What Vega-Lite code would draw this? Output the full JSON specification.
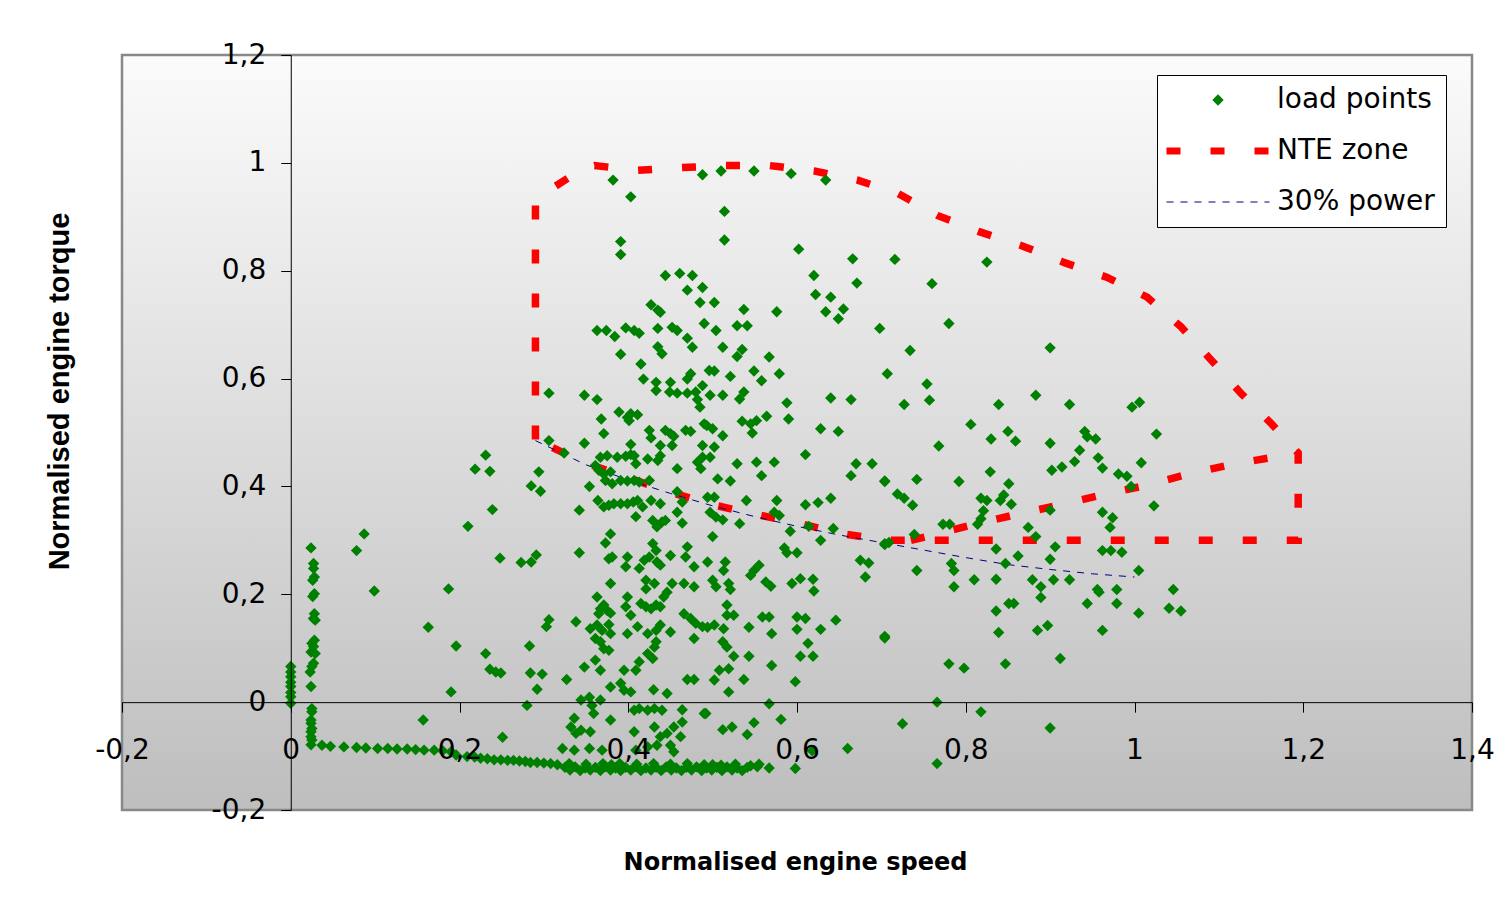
{
"$schema": "https://vega.github.io/schema/vega-lite/v6.json",
"width": 1350, "height": 755,
"autosize": {"type": "none"},
"padding": {"left": 122, "top": 55, "right": 38, "bottom": 98},
"background": "white",
"config": {
 "view": {"stroke": null},
 "locale": {"number": {"decimal": ",", "thousands": ".", "grouping": [3], "currency": ["", ""], "minus": "-"}},
 "axis": {"grid": false, "labelFont": "DejaVu Sans", "labelFontSize": 28, "labelColor": "#000000", "domainColor": "#000000", "tickColor": "#000000", "tickSize": 10, "domainWidth": 1, "tickWidth": 1, "labelFlush": false, "labelOverlap": false, "titleColor": "#000000"}
},
"datasets": {
 "frame": [{"speed": -0.2, "speed2": 1.4, "torque": -0.2, "torque2": 1.2}],
 "points": [
{"speed":0,"torque":0.066},{"speed":0,"torque":0.056},{"speed":0,"torque":0.047},{"speed":0,"torque":0.037},{"speed":0,"torque":0.029},{"speed":0,"torque":0.018},{"speed":0,"torque":0.01},{"speed":0,"torque":-0.002},
{"speed":0.024,"torque":0.286},{"speed":0.027,"torque":0.257},{"speed":0.027,"torque":0.248},{"speed":0.028,"torque":0.232},{"speed":0.026,"torque":0.226},{"speed":0.028,"torque":0.201},{"speed":0.026,"torque":0.196},{"speed":0.028,"torque":0.164},{"speed":0.027,"torque":0.155},{"speed":0.029,"torque":0.152},{"speed":0.028,"torque":0.115},{"speed":0.025,"torque":0.109},{"speed":0.027,"torque":0.103},{"speed":0.024,"torque":0.093},{"speed":0.029,"torque":0.09},{"speed":0.027,"torque":0.072},{"speed":0.025,"torque":0.066},{"speed":0.023,"torque":0.056},{"speed":0.024,"torque":0.029},{"speed":0.025,"torque":-0.012},{"speed":0.025,"torque":-0.018},{"speed":0.024,"torque":-0.033},{"speed":0.024,"torque":-0.039},{"speed":0.025,"torque":-0.049},{"speed":0.024,"torque":-0.055},{"speed":0.024,"torque":-0.064},{"speed":0.025,"torque":-0.07},{"speed":0.024,"torque":-0.079},
{"speed":0.2185,"torque":0.432},{"speed":0.231,"torque":0.458},{"speed":0.236,"torque":0.428},{"speed":0.239,"torque":0.357},{"speed":0.21,"torque":0.326},{"speed":0.248,"torque":0.267},{"speed":0.273,"torque":0.259},{"speed":0.087,"torque":0.312},{"speed":0.078,"torque":0.281},{"speed":0.099,"torque":0.206},{"speed":0.187,"torque":0.21},{"speed":0.163,"torque":0.139},{"speed":0.196,"torque":0.104},{"speed":0.231,"torque":0.09},{"speed":0.236,"torque":0.061},{"speed":0.243,"torque":0.056},{"speed":0.249,"torque":0.054},{"speed":0.19,"torque":0.019},{"speed":0.157,"torque":-0.033},{"speed":0.251,"torque":-0.065},
{"speed":0.306,"torque":0.573},{"speed":0.306,"torque":0.485},{"speed":0.294,"torque":0.427},{"speed":0.285,"torque":0.401},{"speed":0.296,"torque":0.391},{"speed":0.291,"torque":0.273},{"speed":0.285,"torque":0.26},{"speed":0.306,"torque":0.153},{"speed":0.303,"torque":0.14},{"speed":0.283,"torque":0.104},{"speed":0.284,"torque":0.054},{"speed":0.298,"torque":0.052},{"speed":0.292,"torque":0.024},{"speed":0.28,"torque":-0.006},
{"speed":0.382,"torque":0.968},{"speed":0.403,"torque":0.937},{"speed":0.391,"torque":0.854},{"speed":0.391,"torque":0.83},{"speed":0.444,"torque":0.791},{"speed":0.461,"torque":0.795},{"speed":0.476,"torque":0.791},{"speed":0.47,"torque":0.764},{"speed":0.488,"torque":0.769},{"speed":0.485,"torque":0.741},{"speed":0.427,"torque":0.737},{"speed":0.435,"torque":0.727},{"speed":0.438,"torque":0.723},{"speed":0.488,"torque":0.978},{"speed":0.49,"torque":0.702},{"speed":0.363,"torque":0.689},{"speed":0.374,"torque":0.689},{"speed":0.384,"torque":0.678},{"speed":0.397,"torque":0.694},{"speed":0.407,"torque":0.689},{"speed":0.413,"torque":0.684},{"speed":0.435,"torque":0.693},{"speed":0.452,"torque":0.695},{"speed":0.458,"torque":0.689},{"speed":0.47,"torque":0.675},{"speed":0.476,"torque":0.658},{"speed":0.435,"torque":0.659},{"speed":0.44,"torque":0.646},{"speed":0.391,"torque":0.645},{"speed":0.415,"torque":0.627},{"speed":0.418,"torque":0.599},{"speed":0.433,"torque":0.593},{"speed":0.433,"torque":0.578},{"speed":0.45,"torque":0.593},{"speed":0.47,"torque":0.599},{"speed":0.474,"torque":0.609},{"speed":0.488,"torque":0.587},{"speed":0.449,"torque":0.575},{"speed":0.458,"torque":0.573},{"speed":0.47,"torque":0.573},{"speed":0.48,"torque":0.575},{"speed":0.482,"torque":0.561},{"speed":0.485,"torque":0.547},{"speed":0.348,"torque":0.569},{"speed":0.363,"torque":0.561},{"speed":0.368,"torque":0.525},{"speed":0.371,"torque":0.498},{"speed":0.389,"torque":0.538},{"speed":0.399,"torque":0.528},{"speed":0.403,"torque":0.535},{"speed":0.411,"torque":0.533},{"speed":0.401,"torque":0.522},{"speed":0.425,"torque":0.504},{"speed":0.427,"torque":0.49},{"speed":0.444,"torque":0.504},{"speed":0.45,"torque":0.498},{"speed":0.454,"torque":0.493},{"speed":0.468,"torque":0.504},{"speed":0.474,"torque":0.502},{"speed":0.49,"torque":0.516},{"speed":0.348,"torque":0.48},{"speed":0.324,"torque":0.462},{"speed":0.403,"torque":0.478},{"speed":0.403,"torque":0.459},{"speed":0.438,"torque":0.476},{"speed":0.452,"torque":0.476},{"speed":0.488,"torque":0.476},{"speed":0.367,"torque":0.454},{"speed":0.375,"torque":0.457},{"speed":0.387,"torque":0.454},{"speed":0.397,"torque":0.456},{"speed":0.407,"torque":0.457},{"speed":0.423,"torque":0.451},{"speed":0.435,"torque":0.448},{"speed":0.438,"torque":0.457},{"speed":0.409,"torque":0.442},{"speed":0.458,"torque":0.433},{"speed":0.482,"torque":0.445},{"speed":0.488,"torque":0.454},{"speed":0.486,"torque":0.433},{"speed":0.361,"torque":0.439},
{"speed":0.365,"torque":0.43},{"speed":0.371,"torque":0.423},{"speed":0.379,"torque":0.427},{"speed":0.373,"torque":0.411},{"speed":0.381,"torque":0.405},{"speed":0.391,"torque":0.411},{"speed":0.399,"torque":0.41},{"speed":0.407,"torque":0.411},{"speed":0.413,"torque":0.408},{"speed":0.425,"torque":0.411},
{"speed":0.354,"torque":0.4},{"speed":0.364,"torque":0.374},{"speed":0.342,"torque":0.356},{"speed":0.371,"torque":0.362},{"speed":0.377,"torque":0.365},{"speed":0.383,"torque":0.368},{"speed":0.391,"torque":0.368},{"speed":0.399,"torque":0.368},{"speed":0.406,"torque":0.371},{"speed":0.411,"torque":0.374},{"speed":0.417,"torque":0.362},{"speed":0.409,"torque":0.344},{"speed":0.427,"torque":0.374},{"speed":0.438,"torque":0.368},{"speed":0.429,"torque":0.337},{"speed":0.434,"torque":0.325},{"speed":0.44,"torque":0.334},{"speed":0.444,"torque":0.337},{"speed":0.458,"torque":0.39},{"speed":0.464,"torque":0.371},{"speed":0.458,"torque":0.352},{"speed":0.464,"torque":0.332},
{"speed":0.379,"torque":0.312},{"speed":0.373,"torque":0.295},{"speed":0.342,"torque":0.277},{"speed":0.377,"torque":0.266},{"speed":0.381,"torque":0.269},{"speed":0.399,"torque":0.269},{"speed":0.397,"torque":0.251},{"speed":0.413,"torque":0.248},{"speed":0.419,"torque":0.263},{"speed":0.425,"torque":0.269},{"speed":0.429,"torque":0.294},{"speed":0.433,"torque":0.281},{"speed":0.434,"torque":0.26},{"speed":0.438,"torque":0.254},{"speed":0.45,"torque":0.272},{"speed":0.47,"torque":0.288},{"speed":0.468,"torque":0.269},{"speed":0.478,"torque":0.251},
{"speed":0.379,"torque":0.22},{"speed":0.421,"torque":0.226},{"speed":0.431,"torque":0.22},{"speed":0.421,"torque":0.21},{"speed":0.452,"torque":0.22},{"speed":0.466,"torque":0.22},{"speed":0.478,"torque":0.214},
{"speed":0.363,"torque":0.195},{"speed":0.371,"torque":0.18},{"speed":0.367,"torque":0.173},{"speed":0.365,"torque":0.164},{"speed":0.375,"torque":0.17},{"speed":0.379,"torque":0.165},{"speed":0.399,"torque":0.195},{"speed":0.397,"torque":0.177},{"speed":0.403,"torque":0.161},{"speed":0.415,"torque":0.183},{"speed":0.421,"torque":0.177},{"speed":0.427,"torque":0.173},{"speed":0.433,"torque":0.18},{"speed":0.438,"torque":0.177},{"speed":0.446,"torque":0.204},{"speed":0.442,"torque":0.195},
{"speed":0.338,"torque":0.149},{"speed":0.355,"torque":0.136},{"speed":0.363,"torque":0.143},{"speed":0.369,"torque":0.133},{"speed":0.377,"torque":0.144},{"speed":0.379,"torque":0.127},{"speed":0.399,"torque":0.127},{"speed":0.411,"torque":0.14},{"speed":0.423,"torque":0.127},{"speed":0.433,"torque":0.133},{"speed":0.438,"torque":0.143},{"speed":0.45,"torque":0.13},{"speed":0.466,"torque":0.164},{"speed":0.474,"torque":0.155},{"speed":0.48,"torque":0.146},{"speed":0.488,"torque":0.14},{"speed":0.478,"torque":0.118},
{"speed":0.361,"torque":0.118},{"speed":0.367,"torque":0.112},{"speed":0.371,"torque":0.099},{"speed":0.377,"torque":0.096},{"speed":0.433,"torque":0.112},{"speed":0.431,"torque":0.102},{"speed":0.423,"torque":0.09},{"speed":0.429,"torque":0.081},
{"speed":0.361,"torque":0.078},{"speed":0.348,"torque":0.065},{"speed":0.367,"torque":0.059},{"speed":0.395,"torque":0.059},{"speed":0.409,"torque":0.059},{"speed":0.413,"torque":0.075},
{"speed":0.327,"torque":0.042},{"speed":0.379,"torque":0.028},{"speed":0.391,"torque":0.035},{"speed":0.395,"torque":0.022},{"speed":0.403,"torque":0.019},{"speed":0.43,"torque":0.023},{"speed":0.446,"torque":0.016},{"speed":0.47,"torque":0.042},{"speed":0.478,"torque":0.042},
{"speed":0.344,"torque":0.004},{"speed":0.354,"torque":0.009},{"speed":0.357,"torque":-0.006},{"speed":0.367,"torque":0.004},{"speed":0.359,"torque":-0.021},{"speed":0.407,"torque":-0.015},{"speed":0.413,"torque":-0.012},{"speed":0.423,"torque":-0.015},{"speed":0.431,"torque":-0.012},{"speed":0.44,"torque":-0.015},{"speed":0.464,"torque":-0.014},{"speed":0.49,"torque":-0.021},
{"speed":0.336,"torque":-0.03},{"speed":0.332,"torque":-0.046},{"speed":0.344,"torque":-0.052},{"speed":0.338,"torque":-0.058},{"speed":0.355,"torque":-0.055},{"speed":0.379,"torque":-0.033},{"speed":0.407,"torque":-0.055},{"speed":0.431,"torque":-0.046},{"speed":0.438,"torque":-0.064},{"speed":0.446,"torque":-0.058},{"speed":0.454,"torque":-0.046},{"speed":0.462,"torque":-0.064},{"speed":0.464,"torque":-0.037},
{"speed":0.322,"torque":-0.086},{"speed":0.336,"torque":-0.089},{"speed":0.354,"torque":-0.086},{"speed":0.369,"torque":-0.089},{"speed":0.409,"torque":-0.089},{"speed":0.423,"torque":-0.083},{"speed":0.434,"torque":-0.08},{"speed":0.45,"torque":-0.08},{"speed":0.454,"torque":-0.092},
{"speed":0.51,"torque":0.985},{"speed":0.549,"torque":0.985},{"speed":0.593,"torque":0.98},{"speed":0.634,"torque":0.968},{"speed":0.514,"torque":0.91},{"speed":0.514,"torque":0.857},{"speed":0.602,"torque":0.84},{"speed":0.666,"torque":0.822},{"speed":0.62,"torque":0.791},{"speed":0.671,"torque":0.777},{"speed":0.622,"torque":0.756},{"speed":0.64,"torque":0.751},{"speed":0.634,"torque":0.724},{"speed":0.655,"torque":0.729},{"speed":0.649,"torque":0.711},{"speed":0.698,"torque":0.693},{"speed":0.502,"torque":0.741},{"speed":0.537,"torque":0.728},{"speed":0.576,"torque":0.724},{"speed":0.504,"torque":0.689},{"speed":0.529,"torque":0.698},{"speed":0.541,"torque":0.698},{"speed":0.512,"torque":0.658},{"speed":0.535,"torque":0.654},{"speed":0.529,"torque":0.641},{"speed":0.567,"torque":0.64},{"speed":0.496,"torque":0.615},{"speed":0.502,"torque":0.614},{"speed":0.521,"torque":0.604},{"speed":0.549,"torque":0.614},{"speed":0.558,"torque":0.596},{"speed":0.579,"torque":0.609},{"speed":0.497,"torque":0.569},{"speed":0.512,"torque":0.569},{"speed":0.532,"torque":0.562},{"speed":0.537,"torque":0.575},{"speed":0.588,"torque":0.555},{"speed":0.64,"torque":0.564},{"speed":0.664,"torque":0.561},{"speed":0.493,"torque":0.513},{"speed":0.5,"torque":0.507},{"speed":0.535,"torque":0.521},{"speed":0.545,"torque":0.516},{"speed":0.552,"torque":0.522},{"speed":0.547,"torque":0.499},{"speed":0.564,"torque":0.53},{"speed":0.59,"torque":0.525},{"speed":0.628,"torque":0.507},{"speed":0.649,"torque":0.502},{"speed":0.512,"torque":0.494},{"speed":0.502,"torque":0.473},{"speed":0.497,"torque":0.454},{"speed":0.529,"torque":0.442},{"speed":0.552,"torque":0.445},{"speed":0.573,"torque":0.445},{"speed":0.61,"torque":0.459},{"speed":0.67,"torque":0.442},{"speed":0.689,"torque":0.442},
{"speed":0.506,"torque":0.414},{"speed":0.521,"torque":0.41},{"speed":0.558,"torque":0.42},{"speed":0.664,"torque":0.42},{"speed":0.704,"torque":0.41},{"speed":0.494,"torque":0.38},{"speed":0.502,"torque":0.38},{"speed":0.54,"torque":0.374},{"speed":0.576,"torque":0.374},{"speed":0.61,"torque":0.366},{"speed":0.625,"torque":0.37},{"speed":0.64,"torque":0.378},{"speed":0.497,"torque":0.352},{"speed":0.504,"torque":0.343},{"speed":0.512,"torque":0.338},{"speed":0.532,"torque":0.331},{"speed":0.573,"torque":0.352},{"speed":0.579,"torque":0.346},{"speed":0.592,"torque":0.317},{"speed":0.614,"torque":0.326},{"speed":0.628,"torque":0.3},{"speed":0.643,"torque":0.322},{"speed":0.704,"torque":0.294},{"speed":0.5,"torque":0.307},{"speed":0.585,"torque":0.286},{"speed":0.588,"torque":0.277},{"speed":0.6,"torque":0.277},{"speed":0.675,"torque":0.263},{"speed":0.685,"torque":0.258},{"speed":0.681,"torque":0.232},{"speed":0.494,"torque":0.26},{"speed":0.515,"torque":0.26},{"speed":0.513,"torque":0.244},{"speed":0.545,"torque":0.235},{"speed":0.555,"torque":0.254},{"speed":0.549,"torque":0.244},{"speed":0.563,"torque":0.223},{"speed":0.569,"torque":0.215},{"speed":0.594,"torque":0.22},{"speed":0.604,"torque":0.229},{"speed":0.619,"torque":0.228},{"speed":0.62,"torque":0.206},{"speed":0.5,"torque":0.226},{"speed":0.504,"torque":0.214},{"speed":0.519,"torque":0.22},{"speed":0.521,"torque":0.209},{"speed":0.517,"torque":0.18},{"speed":0.517,"torque":0.161},{"speed":0.525,"torque":0.161},{"speed":0.494,"torque":0.139},{"speed":0.502,"torque":0.143},{"speed":0.513,"torque":0.136},{"speed":0.543,"torque":0.139},{"speed":0.559,"torque":0.158},{"speed":0.567,"torque":0.158},{"speed":0.57,"torque":0.127},{"speed":0.6,"torque":0.158},{"speed":0.61,"torque":0.155},{"speed":0.6,"torque":0.135},{"speed":0.628,"torque":0.135},{"speed":0.646,"torque":0.152},{"speed":0.704,"torque":0.122},{"speed":0.512,"torque":0.112},{"speed":0.517,"torque":0.102},{"speed":0.525,"torque":0.085},{"speed":0.543,"torque":0.085},{"speed":0.57,"torque":0.068},{"speed":0.604,"torque":0.085},{"speed":0.613,"torque":0.109},{"speed":0.619,"torque":0.085},{"speed":0.508,"torque":0.059},{"speed":0.519,"torque":0.062},{"speed":0.502,"torque":0.041},{"speed":0.537,"torque":0.042},{"speed":0.598,"torque":0.038},{"speed":0.519,"torque":0.019},{"speed":0.567,"torque":-0.003},{"speed":0.492,"torque":-0.021},{"speed":0.581,"torque":-0.032},{"speed":0.549,"torque":-0.038},{"speed":0.512,"torque":-0.051},{"speed":0.523,"torque":-0.046},{"speed":0.541,"torque":-0.06},{"speed":0.66,"torque":-0.086},{"speed":0.618,"torque":-0.09},
{"speed":0.716,"torque":0.821},{"speed":0.825,"torque":0.816},{"speed":0.76,"torque":0.776},{"speed":0.78,"torque":0.702},{"speed":0.734,"torque":0.652},{"speed":0.9,"torque":0.657},{"speed":0.707,"torque":0.609},{"speed":0.754,"torque":0.59},{"speed":0.757,"torque":0.56},{"speed":0.727,"torque":0.552},{"speed":0.883,"torque":0.569},{"speed":0.839,"torque":0.552},{"speed":0.923,"torque":0.552},{"speed":0.997,"torque":0.547},{"speed":1.006,"torque":0.556},{"speed":0.768,"torque":0.475},{"speed":0.806,"torque":0.515},{"speed":0.83,"torque":0.488},{"speed":0.85,"torque":0.502},{"speed":0.859,"torque":0.484},{"speed":0.9,"torque":0.48},{"speed":0.941,"torque":0.502},{"speed":0.944,"torque":0.492},{"speed":0.954,"torque":0.488},{"speed":0.935,"torque":0.467},{"speed":0.929,"torque":0.446},{"speed":0.914,"torque":0.436},{"speed":0.902,"torque":0.43},{"speed":0.957,"torque":0.453},{"speed":0.962,"torque":0.434},{"speed":1.026,"torque":0.497},{"speed":1.008,"torque":0.444},{"speed":0.981,"torque":0.423},{"speed":0.991,"torque":0.419},{"speed":0.996,"torque":0.4},{"speed":1.023,"torque":0.364},{"speed":0.704,"torque":0.409},{"speed":0.742,"torque":0.413},{"speed":0.792,"torque":0.409},{"speed":0.829,"torque":0.427},{"speed":0.851,"torque":0.405},{"speed":0.719,"torque":0.386},{"speed":0.727,"torque":0.378},{"speed":0.737,"torque":0.365},{"speed":0.818,"torque":0.378},{"speed":0.825,"torque":0.374},{"speed":0.841,"torque":0.374},{"speed":0.845,"torque":0.384},{"speed":0.854,"torque":0.367},{"speed":0.821,"torque":0.355},{"speed":0.818,"torque":0.34},{"speed":0.814,"torque":0.33},{"speed":0.773,"torque":0.33},{"speed":0.781,"torque":0.33},{"speed":0.739,"torque":0.311},{"speed":0.874,"torque":0.324},{"speed":0.883,"torque":0.307},{"speed":0.9,"torque":0.356},{"speed":0.962,"torque":0.352},{"speed":0.974,"torque":0.342},{"speed":0.971,"torque":0.324},{"speed":0.704,"torque":0.292},{"speed":0.709,"torque":0.296},{"speed":0.742,"torque":0.244},{"speed":0.783,"torque":0.257},{"speed":0.786,"torque":0.244},{"speed":0.786,"torque":0.214},{"speed":0.81,"torque":0.227},{"speed":0.836,"torque":0.284},{"speed":0.836,"torque":0.228},{"speed":0.847,"torque":0.257},{"speed":0.862,"torque":0.271},{"speed":0.906,"torque":0.288},{"speed":0.9,"torque":0.265},{"speed":0.879,"torque":0.227},{"speed":0.904,"torque":0.227},{"speed":0.923,"torque":0.227},{"speed":0.889,"torque":0.214},{"speed":0.889,"torque":0.194},{"speed":0.962,"torque":0.281},{"speed":0.972,"torque":0.281},{"speed":0.985,"torque":0.278},{"speed":1.005,"torque":0.244},{"speed":0.956,"torque":0.209},{"speed":0.958,"torque":0.204},{"speed":0.979,"torque":0.209},{"speed":0.979,"torque":0.183},{"speed":0.944,"torque":0.183},{"speed":1.005,"torque":0.165},{"speed":1.046,"torque":0.209},{"speed":1.041,"torque":0.174},{"speed":1.055,"torque":0.169},{"speed":0.962,"torque":0.133},{"speed":0.836,"torque":0.169},{"speed":0.851,"torque":0.183},{"speed":0.857,"torque":0.183},{"speed":0.839,"torque":0.129},{"speed":0.885,"torque":0.133},{"speed":0.897,"torque":0.142},{"speed":0.912,"torque":0.081},{"speed":0.78,"torque":0.071},{"speed":0.798,"torque":0.063},{"speed":0.847,"torque":0.071},{"speed":0.704,"torque":0.119},{"speed":0.766,"torque":0},{"speed":0.725,"torque":-0.04},{"speed":0.818,"torque":-0.018},{"speed":0.9,"torque":-0.048},{"speed":0.766,"torque":-0.114},
{"speed":0.037,"torque":-0.08},{"speed":0.047,"torque":-0.082},{"speed":0.063,"torque":-0.083},{"speed":0.078,"torque":-0.084},{"speed":0.089,"torque":-0.085},{"speed":0.103,"torque":-0.086},{"speed":0.115,"torque":-0.086},{"speed":0.126,"torque":-0.087},{"speed":0.138,"torque":-0.087},{"speed":0.148,"torque":-0.088},{"speed":0.158,"torque":-0.089},{"speed":0.17,"torque":-0.089},{"speed":0.18,"torque":-0.09},{"speed":0.19,"torque":-0.092},{"speed":0.196,"torque":-0.098},{"speed":0.209,"torque":-0.101},{"speed":0.218,"torque":-0.102},{"speed":0.225,"torque":-0.104},{"speed":0.233,"torque":-0.105},{"speed":0.241,"torque":-0.107},{"speed":0.249,"torque":-0.107},{"speed":0.257,"torque":-0.108},{"speed":0.264,"torque":-0.108},{"speed":0.271,"torque":-0.109},{"speed":0.278,"torque":-0.11},{"speed":0.284,"torque":-0.112},{"speed":0.292,"torque":-0.112},{"speed":0.3,"torque":-0.113},{"speed":0.308,"torque":-0.114},{"speed":0.316,"torque":-0.116},
{"speed":0.325,"torque":-0.121},{"speed":0.337,"torque":-0.12},{"speed":0.349,"torque":-0.122},{"speed":0.361,"torque":-0.121},{"speed":0.373,"torque":-0.12},{"speed":0.385,"torque":-0.122},{"speed":0.397,"torque":-0.121},{"speed":0.409,"torque":-0.12},{"speed":0.421,"torque":-0.122},{"speed":0.433,"torque":-0.121},{"speed":0.445,"torque":-0.12},{"speed":0.457,"torque":-0.122},{"speed":0.469,"torque":-0.121},{"speed":0.481,"torque":-0.12},{"speed":0.493,"torque":-0.122},{"speed":0.505,"torque":-0.121},{"speed":0.517,"torque":-0.12},{"speed":0.529,"torque":-0.122},{"speed":0.541,"torque":-0.121},{"speed":0.553,"torque":-0.12},{"speed":0.567,"torque":-0.122},
{"speed":0.331,"torque":-0.126},{"speed":0.343,"torque":-0.127},{"speed":0.355,"torque":-0.126},{"speed":0.367,"torque":-0.127},{"speed":0.379,"torque":-0.126},{"speed":0.391,"torque":-0.127},{"speed":0.403,"torque":-0.126},{"speed":0.415,"torque":-0.127},{"speed":0.427,"torque":-0.126},{"speed":0.439,"torque":-0.127},{"speed":0.451,"torque":-0.126},{"speed":0.463,"torque":-0.127},{"speed":0.475,"torque":-0.126},{"speed":0.487,"torque":-0.127},{"speed":0.499,"torque":-0.126},{"speed":0.511,"torque":-0.127},{"speed":0.523,"torque":-0.126},{"speed":0.535,"torque":-0.127},
{"speed":0.33,"torque":-0.114},{"speed":0.35,"torque":-0.115},{"speed":0.37,"torque":-0.114},{"speed":0.38,"torque":-0.116},{"speed":0.39,"torque":-0.114},{"speed":0.41,"torque":-0.115},{"speed":0.43,"torque":-0.114},{"speed":0.45,"torque":-0.115},{"speed":0.47,"torque":-0.114},{"speed":0.49,"torque":-0.116},
{"speed":0.5,"torque":-0.116},{"speed":0.51,"torque":-0.117},{"speed":0.527,"torque":-0.115},{"speed":0.545,"torque":-0.118},{"speed":0.555,"torque":-0.115},{"speed":0.598,"torque":-0.123}
 ],
 "nte": [
{"seg":"a","i":1,"speed":0.29,"torque":0.487},{"seg":"a","i":2,"speed":0.29,"torque":0.93},{"seg":"a","i":3,"speed":0.302,"torque":0.945},{"seg":"a","i":4,"speed":0.345,"torque":0.988},{"seg":"a","i":5,"speed":0.36,"torque":0.995},{"seg":"a","i":6,"speed":0.41,"torque":0.986},{"seg":"a","i":7,"speed":0.46,"torque":0.991},{"seg":"a","i":8,"speed":0.515,"torque":0.995},{"seg":"a","i":9,"speed":0.567,"torque":0.995},{"seg":"a","i":10,"speed":0.62,"torque":0.985},{"seg":"a","i":11,"speed":0.672,"torque":0.968},{"seg":"a","i":12,"speed":0.72,"torque":0.943},{"seg":"a","i":13,"speed":0.767,"torque":0.902},{"seg":"a","i":14,"speed":0.815,"torque":0.873},{"seg":"a","i":15,"speed":0.867,"torque":0.846},{"seg":"a","i":16,"speed":0.917,"torque":0.815},{"seg":"a","i":17,"speed":0.967,"torque":0.788},{"seg":"a","i":18,"speed":1.015,"torque":0.751},{"seg":"a","i":19,"speed":1.055,"torque":0.696},{"seg":"a","i":20,"speed":1.09,"torque":0.636},{"seg":"a","i":21,"speed":1.126,"torque":0.573},{"seg":"a","i":22,"speed":1.163,"torque":0.515},{"seg":"a","i":23,"speed":1.194,"torque":0.462},{"seg":"a","i":24,"speed":1.194,"torque":0.3},{"seg":"a","i":25,"speed":0.707,"torque":0.3},{"seg":"a","i":26,"speed":0.655,"torque":0.312},{"seg":"a","i":27,"speed":0.604,"torque":0.331},{"seg":"a","i":28,"speed":0.552,"torque":0.348},{"seg":"a","i":29,"speed":0.5,"torque":0.366},{"seg":"a","i":30,"speed":0.446,"torque":0.391},{"seg":"a","i":31,"speed":0.397,"torque":0.418},{"seg":"a","i":32,"speed":0.348,"torque":0.444},{"seg":"a","i":33,"speed":0.29,"torque":0.487},
{"seg":"b","i":1,"speed":0.735,"torque":0.3},{"seg":"b","i":2,"speed":0.754,"torque":0.307},{"seg":"b","i":3,"speed":0.806,"torque":0.328},{"seg":"b","i":4,"speed":0.86,"torque":0.348},{"seg":"b","i":5,"speed":0.91,"torque":0.365},{"seg":"b","i":6,"speed":0.963,"torque":0.385},{"seg":"b","i":7,"speed":1.014,"torque":0.402},{"seg":"b","i":8,"speed":1.064,"torque":0.423},{"seg":"b","i":9,"speed":1.116,"torque":0.441},{"seg":"b","i":10,"speed":1.194,"torque":0.462}
 ],
 "power": [
{"speed":0.29,"torque":0.485},{"speed":0.35,"torque":0.44},{"speed":0.4,"torque":0.412},{"speed":0.45,"torque":0.387},{"speed":0.5,"torque":0.364},{"speed":0.55,"torque":0.344},{"speed":0.6,"torque":0.326},{"speed":0.65,"torque":0.31},{"speed":0.7,"torque":0.296},{"speed":0.75,"torque":0.282},{"speed":0.8,"torque":0.268},{"speed":0.85,"torque":0.255},{"speed":0.9,"torque":0.246},{"speed":0.95,"torque":0.238},{"speed":1.0,"torque":0.232}
 ]
},
"encoding": {
 "x": {"field": "speed", "type": "quantitative", "scale": {"domain": [-0.2, 1.4], "nice": false, "zero": false},
   "axis": {"values": [-0.2, 0, 0.2, 0.4, 0.6, 0.8, 1, 1.2, 1.4], "format": "~g", "offset": -107.857, "labelPadding": 24, "zindex": 1, "title": "Normalised engine speed", "titleFont": "DejaVu Sans", "titleFontSize": 24, "titleFontWeight": "bold", "titleX": 673, "titleY": 148}},
 "y": {"field": "torque", "type": "quantitative", "scale": {"domain": [-0.2, 1.2], "nice": false, "zero": false},
   "axis": {"values": [-0.2, 0, 0.2, 0.4, 0.6, 0.8, 1, 1.2], "format": "~g", "offset": -168.75, "labelPadding": 15, "zindex": 1, "title": "Normalised engine torque", "titleFont": "Liberation Sans", "titleFontSize": 29, "titleFontWeight": "bold", "titleX": -216, "titleY": 336}}
},
"layer": [
 {"data": {"name": "frame"},
  "mark": {"type": "rect", "fill": {"gradient": "linear", "x1": 0, "y1": 0, "x2": 0, "y2": 1, "stops": [{"offset": 0, "color": "#fbfbfb"}, {"offset": 1, "color": "#bebebe"}]}, "stroke": "#888888", "strokeWidth": 2.5},
  "encoding": {"x2": {"field": "speed2"}, "y2": {"field": "torque2"}}},
 {"data": {"name": "nte"},
  "mark": {"type": "line", "strokeWidth": 7.5, "strokeDash": [14, 30], "strokeCap": "butt"},
  "encoding": {
   "color": {"datum": "NTE zone", "type": "nominal", "scale": {"domain": ["load points", "NTE zone", "30% power"], "range": ["#008000", "#ff0000", "#000080"]},
     "legend": {"orient": "none", "legendX": 1035, "legendY": 20, "title": null, "padding": 11, "fillColor": "#ffffff", "strokeColor": "#000000", "labelFont": "DejaVu Sans", "labelFontSize": 28, "labelColor": "#000000", "symbolSize": 100, "labelOffset": 81, "rowPadding": 23,
       "encode": {"symbols": {"update": {
         "shape": {"signal": "datum.value === 'load points' ? 'diamond' : 'stroke'"},
         "size": {"signal": "datum.value === 'load points' ? 130 : 10609"},
         "fill": {"signal": "datum.value === 'load points' ? '#008000' : 'transparent'"},
         "stroke": {"signal": "datum.value === 'NTE zone' ? '#ff0000' : datum.value === '30% power' ? '#000080' : 'transparent'"},
         "strokeWidth": {"signal": "datum.value === 'NTE zone' ? 7 : datum.value === '30% power' ? 1 : 0"},
         "strokeDash": {"signal": "datum.value === 'NTE zone' ? [14, 30] : datum.value === '30% power' ? [7, 7] : [1, 0]"},
         "x": {"value": 50},
         "opacity": {"value": 1}}}}}},
   "detail": {"field": "seg", "type": "nominal"},
   "order": {"field": "i", "type": "quantitative"}}},
 {"data": {"name": "power"},
  "mark": {"type": "line", "strokeWidth": 1, "strokeDash": [7, 7]},
  "encoding": {
   "color": {"datum": "30% power", "type": "nominal"}}},
 {"data": {"name": "points"},
  "mark": {"type": "point", "shape": "diamond", "filled": true, "size": 130, "opacity": 1, "strokeWidth": 0},
  "encoding": {
   "color": {"datum": "load points", "type": "nominal"}}}
]
}
